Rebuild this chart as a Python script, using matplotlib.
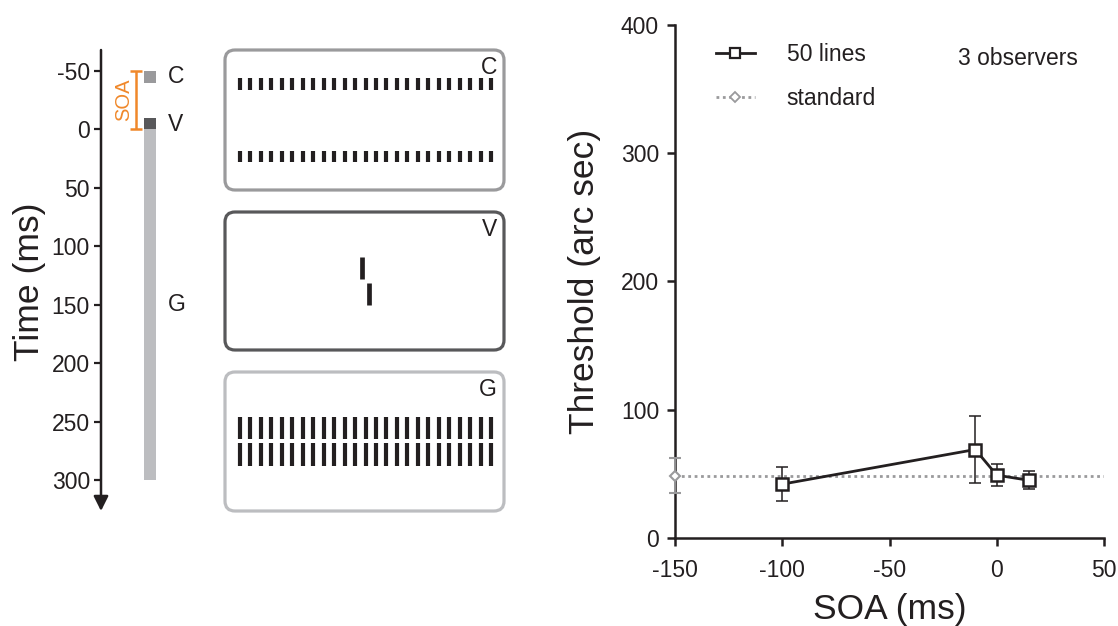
import numpy as np
import matplotlib
matplotlib.use("Agg")
import matplotlib.pyplot as plt
from matplotlib.patches import FancyBboxPatch

plt.rcParams['font.family'] = ['Liberation Sans', 'DejaVu Sans']
plt.rcParams['axes.unicode_minus'] = False
plt.rcParams['text.color'] = '#231f20'
plt.rcParams['axes.labelcolor'] = '#231f20'
plt.rcParams['xtick.color'] = '#231f20'
plt.rcParams['ytick.color'] = '#231f20'

# ---- data ----
# stimulus timeline (ms)
stim_names = ['C', 'V', 'G']
stim_start = [-50, -10, 0]
stim_dur = [10, 10, 300]
stim_colors = ['#9a9a9c', '#58585a', '#bcbdc0']
time_ticks = [-50, 0, 50, 100, 150, 200, 250, 300]
soa_span = [-50, 0]

# thresholds
soa = [-100, -10, 0, 15]
thresh = [42, 69, 49, 45]
thresh_err = [13.5, 26, 8.5, 7]
std_soa = -150
std_thresh = 48.5
std_err = 13.5

n_lines = 25

W, H = 1118, 626
fig = plt.figure(figsize=(W / 100, H / 100), dpi=100)

def fx(px):
    return px / W

def fy(py):
    return 1 - py / H

tick_fs = 16.5
label_fs = 25.5

# ---- timeline panel ----
top_px, bot_px = 45, 515
px_per_ms = (480 - 71) / 350.0
zero_px = 71 + 50 * px_per_ms
ax_t = fig.add_axes([fx(101), fy(bot_px), fx(120), (bot_px - top_px) / H])
ax_t.set_xlim(0, 120)
ax_t.set_ylim((bot_px - zero_px) / px_per_ms, (top_px - zero_px) / px_per_ms)
for s in ax_t.spines.values():
    s.set_visible(False)
ax_t.set_xticks([])
ax_t.set_yticks(time_ticks)
ax_t.tick_params(axis='y', direction='out', length=5, width=1.6,
                 labelsize=tick_fs, pad=3)
ax_t.patch.set_visible(False)

y_top = (50 - zero_px) / px_per_ms
y_tip = (511 - zero_px) / px_per_ms
ax_t.annotate('', xy=(0, y_tip), xytext=(0, y_top),
              arrowprops=dict(arrowstyle='-|>', lw=1.8, color='#231f20',
                              mutation_scale=22, shrinkA=0, shrinkB=0),
              annotation_clip=False)

ax_t.bar(49, stim_dur[2], bottom=stim_start[2], width=12, color=stim_colors[2], zorder=1)
ax_t.bar([49] * 2, stim_dur[:2], bottom=stim_start[:2], width=12,
         color=stim_colors[:2], zorder=2)

label_y = [stim_start[0] + stim_dur[0] / 2, stim_start[1] + stim_dur[1] / 2 + 1, 150]
for name, yy in zip(stim_names, label_y):
    ax_t.text(67, yy, name, fontsize=tick_fs, va='center', ha='left')

orange = '#f0882a'
ax_t.plot([35, 35], soa_span, color=orange, lw=1.8, solid_capstyle='butt')
for v in soa_span:
    ax_t.plot([29, 41], [v, v], color=orange, lw=1.8, solid_capstyle='butt')
ax_t.text(23, np.mean(soa_span), 'SOA', color=orange, fontsize=14.5,
          rotation=90, ha='center', va='center')

fig.text(fx(29), fy(282), 'Time (ms)', rotation=90, fontsize=label_fs,
         ha='center', va='center')

# ---- stimulus boxes ----
ax_s = fig.add_axes([0, 0, 1, 1])
ax_s.set_xlim(0, W)
ax_s.set_ylim(H, 0)
ax_s.axis('off')

boxes = [(50, 190), (212, 350), (372, 511)]
box_colors = ['#9a9a9c', '#58585a', '#bcbdc0']
for (y0, y1), c, name in zip(boxes, box_colors, stim_names):
    p = FancyBboxPatch((225, y0), 279, y1 - y0,
                       boxstyle='round,pad=0,rounding_size=10',
                       fc='white', ec=c, lw=2.3)
    ax_s.add_patch(p)
    ax_s.text(497, y0 + 18, name, fontsize=tick_fs, ha='right', va='center')

xs = np.linspace(240, 491, n_lines)
lw_bar = 3.0
ax_s.vlines(xs, 78, 90, color='#231f20', lw=lw_bar)
ax_s.vlines(xs, 151, 162, color='#231f20', lw=lw_bar)
ax_s.vlines(xs, 417, 439, color='#231f20', lw=lw_bar)
ax_s.vlines(xs, 443, 466, color='#231f20', lw=lw_bar)
ax_s.vlines([362, 368.5], [257, 283], [279, 305], color='#231f20', lw=3.4)

# ---- threshold plot ----
ax = fig.add_axes([fx(675), fy(538), (1104 - 675) / W, (538 - 25) / H])
ax.axhline(std_thresh, color='#9a9a9c', lw=2, ls=(0, (1, 1.3)), zorder=1)
ax.errorbar([std_soa], [std_thresh], yerr=[std_err], fmt='D', color='#9a9a9c',
            mfc='white', mec='#9a9a9c', ms=5, mew=1.5, elinewidth=1.3,
            capsize=4, capthick=1.3, clip_on=False, zorder=3)
ax.errorbar(soa, thresh, yerr=thresh_err, fmt='none', ecolor='#231f20',
            elinewidth=1.1, capsize=4, capthick=1.1, zorder=2)
ax.plot(soa, thresh, '-s', color='#231f20', lw=2, ms=8, mfc='white',
        mew=1.8, zorder=4)

ax.set_xlim(-150, 50)
ax.set_ylim(0, 400)
ax.set_xticks([-150, -100, -50, 0, 50])
ax.set_yticks([0, 100, 200, 300, 400])
for side in ['top', 'right']:
    ax.spines[side].set_visible(False)
for side in ['left', 'bottom']:
    ax.spines[side].set_linewidth(1.8)
    ax.spines[side].set_color('#231f20')
ax.tick_params(direction='out', length=6, width=1.8, labelsize=tick_fs)
ax.tick_params(axis='y', pad=5.5)
ax.tick_params(axis='x', pad=9)
ax.set_xlabel('SOA (ms)', fontsize=label_fs, labelpad=8)
ax.set_ylabel('Threshold (arc sec)', fontsize=label_fs, labelpad=14)

h1, = ax.plot([], [], '-s', color='#231f20', lw=2, ms=7, mfc='white', mew=1.6)
h2, = ax.plot([], [], color='#9a9a9c', lw=2, ls=(0, (1, 1.3)), marker='D',
              ms=5, mfc='white', mec='#9a9a9c', mew=1.3)
ax.legend([h1, h2], ['50 lines', 'standard'], loc='upper left',
          bbox_to_anchor=(0.095, 0.965), frameon=False, fontsize=tick_fs,
          handlelength=1.7, handletextpad=1.4, labelspacing=0.9,
          borderpad=0, borderaxespad=0)
ax.text(0.94, 0.934, '3 observers', transform=ax.transAxes, fontsize=tick_fs,
        ha='right', va='center')

fig.savefig('out.png', dpi=100)
